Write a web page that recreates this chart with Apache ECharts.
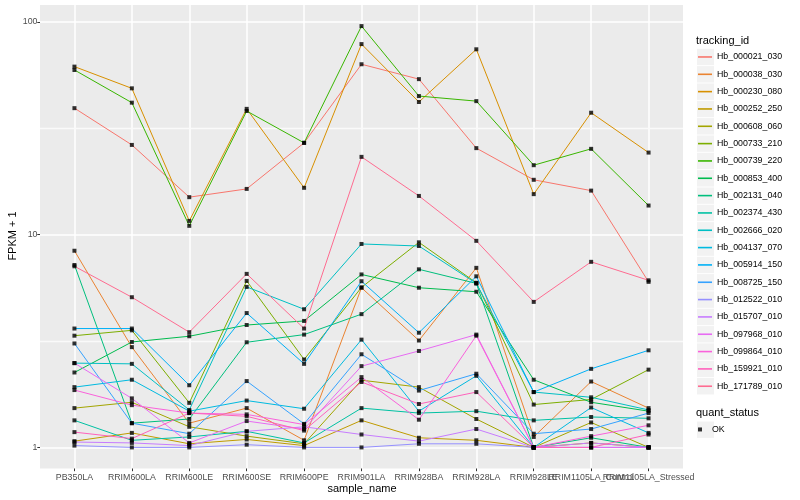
<!DOCTYPE html>
<html><head><meta charset="utf-8">
<script src="https://cdn.jsdelivr.net/npm/echarts@6/dist/echarts.min.js"></script>
<style>html,body{margin:0;padding:0;background:#fff}#c{width:800px;height:500px}</style>
</head><body><div id="c"></div>
<script>
const categories = ['PB350LA','RRIM600LA','RRIM600LE','RRIM600SE','RRIM600PE','RRIM901LA','RRIM928BA','RRIM928LA','RRIM928LE','RRIM1105LA_Control','RRIM1105LA_Stressed'];
const trackingIds = ['Hb_000021_030','Hb_000038_030','Hb_000230_080','Hb_000252_250','Hb_000608_060','Hb_000733_210','Hb_000739_220','Hb_000853_400','Hb_002131_040','Hb_002374_430','Hb_002666_020','Hb_004137_070','Hb_005914_150','Hb_008725_150','Hb_012522_010','Hb_015707_010','Hb_097968_010','Hb_099864_010','Hb_159921_010','Hb_171789_010'];
const colors = ['#F8766D','#EA8331','#D89000','#C09B00','#A3A500','#7CAE00','#39B600','#00BB4E','#00BF7D','#00C1A3','#00BFC4','#00BAE0','#00B0F6','#35A2FF','#9590FF','#C77CFF','#E76BF3','#FA62DB','#FF62BC','#FF6C91'];

const Hb_000021_030 = [39.3, 26.4, 15.0, 16.4, 27.0, 63.2, 53.8, 25.5, 18.1, 16.1, 6.0];
const Hb_000038_030 = [8.4, 2.96, 1.30, 1.53, 1.08, 5.63, 3.18, 6.98, 1.12, 2.04, 1.53];
const Hb_000230_080 = [61.6, 48.7, 11.6, 39.0, 16.6, 78.6, 42.0, 74.3, 15.5, 37.4, 24.3];
const Hb_000252_250 = [1.07, 1.17, 1.04, 1.09, 1.02, 1.34, 1.11, 1.08, 1.0, 1.05, 1.0];
const Hb_000608_060 = [1.53, 1.63, 1.25, 1.13, 1.04, 2.07, 1.92, 1.36, 1.0, 1.31, 1.0];
const Hb_000733_210 = [3.35, 3.55, 1.62, 6.06, 2.59, 5.65, 9.2, 5.94, 1.59, 1.68, 2.32];
const Hb_000739_220 = [59.4, 41.7, 11.0, 38.1, 27.0, 95.5, 44.8, 42.4, 21.2, 25.3, 13.7];
const Hb_000853_400 = [2.25, 3.13, 3.33, 3.76, 3.93, 6.5, 5.63, 5.39, 2.08, 1.63, 1.48];
const Hb_002131_040 = [7.2, 1.30, 1.36, 3.12, 3.39, 4.23, 6.87, 5.9, 1.0, 1.11, 1.0];
const Hb_002374_430 = [1.34, 1.08, 1.12, 1.19, 1.05, 1.53, 1.45, 1.48, 1.34, 1.39, 1.37];
const Hb_002666_020 = [2.49, 2.47, 1.50, 5.68, 4.46, 9.04, 8.84, 5.9, 1.82, 1.72, 1.50];
const Hb_004137_070 = [1.92, 2.08, 1.48, 1.66, 1.52, 3.21, 1.48, 2.17, 1.0, 1.54, 1.17];
const Hb_005914_150 = [3.62, 3.62, 1.96, 4.28, 2.47, 6.04, 3.46, 6.37, 1.82, 2.34, 2.86];
const Hb_008725_150 = [3.08, 1.30, 1.16, 2.05, 1.29, 2.74, 1.85, 2.22, 1.16, 1.22, 1.45];
const Hb_012522_010 = [1.02, 1.0, 1.0, 1.03, 1.0, 1.0, 1.04, 1.04, 1.0, 1.0, 1.0];
const Hb_015707_010 = [1.06, 1.05, 1.02, 1.19, 1.25, 1.15, 1.07, 1.22, 1.0, 1.05, 1.0];
const Hb_097968_010 = [2.49, 1.70, 1.05, 1.33, 1.22, 2.41, 2.84, 3.39, 1.0, 1.0, 1.0];
const Hb_099864_010 = [1.86, 1.58, 1.45, 1.43, 1.28, 2.14, 1.35, 3.35, 1.0, 1.13, 1.27];
const Hb_159921_010 = [1.18, 1.10, 1.45, 1.40, 1.20, 2.03, 1.60, 1.82, 1.0, 1.0, 1.15];
const Hb_171789_010 = [7.1, 5.08, 3.48, 6.54, 3.62, 23.2, 15.2, 9.35, 4.83, 7.45, 6.1];

const seriesValues = [Hb_000021_030, Hb_000038_030, Hb_000230_080, Hb_000252_250, Hb_000608_060, Hb_000733_210, Hb_000739_220, Hb_000853_400, Hb_002131_040, Hb_002374_430, Hb_002666_020, Hb_004137_070, Hb_005914_150, Hb_008725_150, Hb_012522_010, Hb_015707_010, Hb_097968_010, Hb_099864_010, Hb_159921_010, Hb_171789_010];
const yTicks = [1, 10, 100];
const yMinorTicks = [3.1623, 31.623];
const statusLabels = ['OK'];

const FONT = "'Liberation Sans', Arial, Helvetica, sans-serif";
const catIdx = categories.map((c, i) => i);
const xMin = -0.6, xMax = 10.6;
const yMin = 0.796, yMax = 120;
// empty labels at the panel edges so that no real category label is treated as min/max label
const labelValues = [xMin, ...catIdx, xMax];

const lineSeries = trackingIds.map((id, k) => ({
  name: id, type: 'line', xAxisIndex: 0, yAxisIndex: 0,
  data: seriesValues[k].map((v, i) => [i, v]),
  showSymbol: false, symbol: 'none',
  lineStyle: { width: 1, color: colors[k] },
  itemStyle: { color: colors[k] },
  emphasis: { disabled: true }, silent: true, z: 2
}));
const points = [];
seriesValues.forEach(arr => arr.forEach((v, i) => points.push([i, v])));

const keyRects = trackingIds.map((id, i) => ({
  type: 'rect', shape: { x: 697, y: 48.8 + 17.33 * i, width: 17, height: 16.4 },
  style: { fill: '#f2f2f2' }, silent: true, z: 0
}));

const chart = echarts.init(document.getElementById('c'), null, { renderer: 'canvas' });
chart.setOption({
  animation: false,
  backgroundColor: '#ffffff',
  grid: { left: 40, right: 117, top: 5, bottom: 31.5, show: true, backgroundColor: '#ebebeb', borderWidth: 0 },
  xAxis: {
    type: 'value', min: xMin, max: xMax,
    axisLine: { show: false, onZero: false },
    axisTick: { show: true, customValues: catIdx, length: 2.7, lineStyle: { color: '#333333', width: 1 } },
    axisLabel: { customValues: labelValues, formatter: v => { const c = categories[Math.round(v)]; return (Math.abs(v - Math.round(v)) < 1e-6 && c) ? c : ''; }, color: '#4d4d4d', fontSize: 8.8, margin: 4.5, fontFamily: FONT, hideOverlap: false },
    splitLine: { show: true, lineStyle: { color: '#ffffff', width: 1.5 } }
  },
  yAxis: {
    type: 'log', logBase: 10, min: yMin, max: yMax,
    axisLine: { show: false, onZero: false },
    axisTick: { show: true, customValues: yTicks, length: 2.7, lineStyle: { color: '#333333', width: 1 } },
    axisLabel: { customValues: yTicks, color: '#4d4d4d', fontSize: 8.8, margin: 2.5, fontFamily: FONT, showMinLabel: true, showMaxLabel: true },
    splitLine: { show: true, lineStyle: { color: '#ffffff', width: 1.5 } }
  },
  legend: [{
    data: trackingIds, orient: 'vertical', left: 698, top: 48.3, padding: 0,
    itemWidth: 14, itemHeight: 1.6, itemGap: 0, icon: 'rect', selectedMode: false,
    textStyle: { fontSize: 8.8, color: '#000', lineHeight: 17.33, fontFamily: FONT }
  }, {
    data: statusLabels, orient: 'vertical', left: 698, top: 420.8, padding: 0,
    itemWidth: 14, itemHeight: 4, itemGap: 0, icon: 'path://M0,0h1v1h-1z', selectedMode: false,
    textStyle: { fontSize: 8.8, color: '#000', lineHeight: 17.33, fontFamily: FONT }
  }],
  graphic: [
    ...keyRects,
    { type: 'rect', shape: { x: 697, y: 421.5, width: 17, height: 16.4 }, style: { fill: '#f2f2f2' }, silent: true, z: 0 },
    { type: 'text', x: 696, y: 41, style: { text: 'tracking_id', fontSize: 11, fill: '#000', fontFamily: FONT, textVerticalAlign: 'middle' }, silent: true },
    { type: 'text', x: 696, y: 412.5, style: { text: 'quant_status', fontSize: 11, fill: '#000', fontFamily: FONT, textVerticalAlign: 'middle' }, silent: true },
    { type: 'text', x: 13, y: 236, rotation: Math.PI / 2, style: { text: 'FPKM + 1', fontSize: 11, fill: '#000', fontFamily: FONT, textAlign: 'center', textVerticalAlign: 'middle' }, silent: true },
    { type: 'text', x: 362, y: 489, style: { text: 'sample_name', fontSize: 11, fill: '#000', fontFamily: FONT, textAlign: 'center', textVerticalAlign: 'middle' }, silent: true }
  ],
  series: [...lineSeries, {
    name: 'OK', type: 'scatter', xAxisIndex: 0, yAxisIndex: 0, data: points,
    symbol: 'rect', symbolSize: 4, itemStyle: { color: '#000000' }, silent: true, z: 3,
    markLine: {
      silent: true, symbol: ['none', 'none'], animation: false, z: 1,
      label: { show: false }, emphasis: { disabled: true },
      lineStyle: { color: '#fafafa', width: 1.3, type: 'solid', opacity: 1 },
      data: yMinorTicks.map(v => ({ yAxis: v }))
    }
  }]
});
</script>
</body></html>
